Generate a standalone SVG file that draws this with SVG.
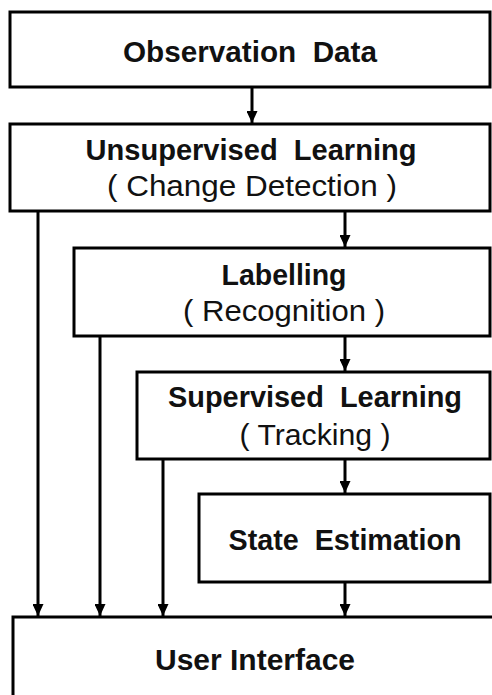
<svg xmlns="http://www.w3.org/2000/svg" width="492" height="695" viewBox="0 0 492 695">
<style>
.box{fill:#fff;stroke:#000;stroke-width:3}
.b{font-family:"Liberation Sans",Arial,sans-serif;font-weight:bold;font-size:29px;fill:#111;text-anchor:middle}
.r{font-family:"Liberation Sans",Arial,sans-serif;font-size:29px;fill:#111;text-anchor:middle}
.ln{stroke:#000;stroke-width:3;fill:none;marker-end:url(#ah)}
</style>
<defs>
<marker id="ah" markerUnits="userSpaceOnUse" markerWidth="13" markerHeight="11" refX="13" refY="6" orient="auto" viewBox="0 0 13 12">
<path d="M0,0 L13,6 L0,12 z" fill="#000"/>
</marker>
</defs>
<rect width="492" height="695" fill="#fff"/>
<g id="connectors">
<line class="ln" x1="252" y1="88" x2="252" y2="123"/>
<line class="ln" x1="345" y1="212" x2="345" y2="247"/>
<line class="ln" x1="345" y1="337" x2="345" y2="371"/>
<line class="ln" x1="345" y1="460" x2="345" y2="493"/>
<line class="ln" x1="345" y1="583" x2="345" y2="616"/>
<line class="ln" x1="38" y1="212" x2="38" y2="616"/>
<line class="ln" x1="100" y1="337" x2="100" y2="616"/>
<line class="ln" x1="163" y1="460" x2="163" y2="616"/>
</g>
<g id="observation">
<rect class="box" x="10" y="12" width="480" height="75"/>
<text class="b" x="250" y="62" textLength="254" lengthAdjust="spacingAndGlyphs" xml:space="preserve">Observation  Data</text>
</g>
<g id="unsupervised">
<rect class="box" x="10" y="124" width="480" height="87"/>
<text class="b" x="251" y="160" textLength="331" lengthAdjust="spacingAndGlyphs" xml:space="preserve">Unsupervised  Learning</text>
<text class="r" x="252" y="196" textLength="290" lengthAdjust="spacingAndGlyphs">( Change Detection )</text>
</g>
<g id="labelling">
<rect class="box" x="74" y="248" width="416" height="88"/>
<text class="b" x="284" y="285" textLength="125" lengthAdjust="spacingAndGlyphs">Labelling</text>
<text class="r" x="284" y="321" textLength="202" lengthAdjust="spacingAndGlyphs">( Recognition )</text>
</g>
<g id="supervised">
<rect class="box" x="137" y="372" width="353" height="87"/>
<text class="b" x="315" y="407" textLength="294" lengthAdjust="spacingAndGlyphs" xml:space="preserve">Supervised  Learning</text>
<text class="r" x="315" y="445" textLength="151" lengthAdjust="spacingAndGlyphs">( Tracking )</text>
</g>
<g id="state">
<rect class="box" x="199" y="494" width="291" height="88"/>
<text class="b" x="345" y="550" textLength="233" lengthAdjust="spacingAndGlyphs" xml:space="preserve">State  Estimation</text>
</g>
<g id="ui">
<rect class="box" x="13" y="617" width="500" height="100"/>
<text class="b" x="255" y="670" textLength="200" lengthAdjust="spacingAndGlyphs">User Interface</text>
</g>
</svg>
